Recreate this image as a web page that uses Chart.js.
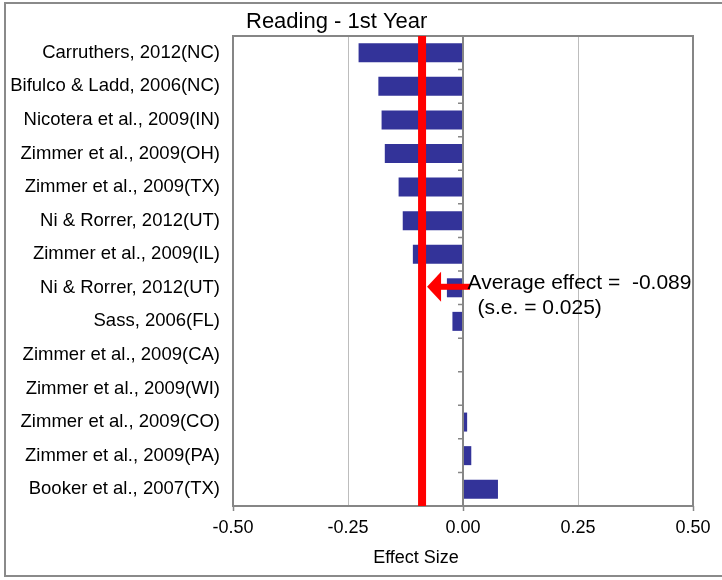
<!DOCTYPE html>
<html>
<head>
<meta charset="utf-8">
<script src="https://cdn.jsdelivr.net/npm/chart.js@4.4.1/dist/chart.umd.min.js"></script>
<style>
  html, body { margin: 0; padding: 0; background: #ffffff; }
  #wrap { position: relative; width: 722px; height: 580px; overflow: hidden; }
  #frame { position: absolute; left: 4px; top: 2px; width: 740px; height: 575px;
           border: 2px solid #8a8a8a; box-sizing: border-box; pointer-events: none; }
  canvas { position: absolute; left: 0; top: 0; }
</style>
</head>
<body>
<div id="wrap">
  <canvas id="chart" width="722" height="580"></canvas>
  <div id="frame"></div>
</div>
<script>
// Studies, top to bottom
const studies = [
  'Carruthers, 2012(NC)',
  'Bifulco & Ladd, 2006(NC)',
  'Nicotera et al., 2009(IN)',
  'Zimmer et al., 2009(OH)',
  'Zimmer et al., 2009(TX)',
  'Ni & Rorrer, 2012(UT)',
  'Zimmer et al., 2009(IL)',
  'Ni & Rorrer, 2012(UT)',
  'Sass, 2006(FL)',
  'Zimmer et al., 2009(CA)',
  'Zimmer et al., 2009(WI)',
  'Zimmer et al., 2009(CO)',
  'Zimmer et al., 2009(PA)',
  'Booker et al., 2007(TX)'
];

// Reading effect size in the first year, per study
const effects = [-0.227, -0.184, -0.177, -0.170, -0.140, -0.131, -0.109,
                 -0.035, -0.023, 0, 0, 0.009, 0.018, 0.076];

const xTickValues = [-0.5, -0.25, 0, 0.25, 0.5];

const averageEffect = -0.089;
const averageSE = 0.025;
const averageRow = 7; // row the arrow points from

const chartTitle = 'Reading - 1st Year';
const xAxisTitle = 'Effect Size';

const FONT = 'Arial, "Liberation Sans", sans-serif';
const AXIS_GREY = '#868686';

// Frame, zero axis with its category tick marks, average line, arrow and labels
const decorations = {
  id: 'decorations',
  afterDatasetsDraw(chart) {
    const { ctx, chartArea: a, scales: { x, y } } = chart;
    ctx.save();

    // zero axis
    const x0 = x.getPixelForValue(0);
    ctx.strokeStyle = AXIS_GREY;
    ctx.lineWidth = 2;
    ctx.beginPath();
    ctx.moveTo(x0, a.top);
    ctx.lineTo(x0, a.bottom);
    ctx.stroke();

    // tick marks between categories on the zero axis
    ctx.lineWidth = 1.5;
    const step = (a.bottom - a.top) / studies.length;
    ctx.beginPath();
    for (let i = 1; i < studies.length; i++) {
      const yy = a.top + i * step;
      ctx.moveTo(x0 - 5, yy);
      ctx.lineTo(x0, yy);
    }
    ctx.stroke();

    // plot frame
    ctx.lineWidth = 2;
    ctx.strokeRect(a.left, a.top, a.right - a.left, a.bottom - a.top);

    // average effect line
    const xa = x.getPixelForValue(averageEffect);
    ctx.strokeStyle = '#ff0000';
    ctx.lineWidth = 8;
    ctx.beginPath();
    ctx.moveTo(xa, a.top);
    ctx.lineTo(xa, a.bottom);
    ctx.stroke();

    // arrow pointing at the average line
    const ya = y.getPixelForValue(averageRow) - 1;
    const tip = xa + 5;
    const headBase = tip + 14;
    const tail = x0 + 7;
    ctx.fillStyle = '#ff0000';
    ctx.fillRect(headBase - 1, ya - 3, tail - headBase + 1, 6);
    ctx.beginPath();
    ctx.moveTo(tip, ya);
    ctx.lineTo(headBase, ya - 15);
    ctx.lineTo(headBase, ya + 15);
    ctx.closePath();
    ctx.fill();

    // annotation text
    ctx.fillStyle = '#000000';
    ctx.font = '21px ' + FONT;
    ctx.textBaseline = 'middle';
    ctx.textAlign = 'left';
    ctx.fillText('Average effect =  ' + averageEffect.toFixed(3), x0 + 4.5, ya - 4);
    ctx.fillText('(s.e. = ' + averageSE.toFixed(3) + ')', x0 + 14.5, ya + 21);

    // chart title
    ctx.font = '22px ' + FONT;
    ctx.fillText(chartTitle, a.left + 13, 22);

    // x axis title
    ctx.font = '18px ' + FONT;
    ctx.textAlign = 'center';
    ctx.fillText(xAxisTitle, a.left + 183, 558);

    ctx.restore();
  }
};

new Chart(document.getElementById('chart'), {
  type: 'bar',
  data: {
    labels: studies,
    datasets: [{
      data: effects,
      backgroundColor: '#333399',
      borderWidth: 0,
      barPercentage: 0.566,
      categoryPercentage: 1.0
    }]
  },
  options: {
    indexAxis: 'y',
    responsive: false,
    animation: false,
    events: [],
    layout: { padding: { left: 0, right: 29, top: 36, bottom: 0 } },
    plugins: {
      legend: { display: false },
      title: { display: false },
      tooltip: { enabled: false }
    },
    scales: {
      x: {
        type: 'linear',
        min: -0.5,
        max: 0.5,
        afterBuildTicks(axis) {
          axis.ticks = xTickValues.map(v => ({ value: v }));
        },
        afterFit(axis) { axis.height = 74; },
        border: { display: false },
        grid: {
          drawTicks: true,
          tickLength: 5,
          lineWidth: 1,
          color: c => (c.tick && Math.abs(Math.abs(c.tick.value) - 0.25) < 1e-9) ? '#bdbdbd' : 'rgba(0,0,0,0)',
          tickColor: c => (c.tick && Math.abs(c.tick.value) % 0.5 < 1e-9) ? AXIS_GREY : 'rgba(0,0,0,0)',
          tickWidth: 1.5
        },
        ticks: {
          color: '#000000',
          font: { family: FONT, size: 18 },
          padding: 6,
          maxRotation: 0,
          callback: v => Number(v).toFixed(2)
        }
      },
      y: {
        type: 'category',
        afterFit(axis) { axis.width = 233; },
        border: { display: false },
        grid: { display: false, drawTicks: false },
        ticks: {
          color: '#000000',
          font: { family: FONT, size: 18.5 },
          padding: 13,
          autoSkip: false
        }
      }
    }
  },
  plugins: [decorations]
});
</script>
</body>
</html>
